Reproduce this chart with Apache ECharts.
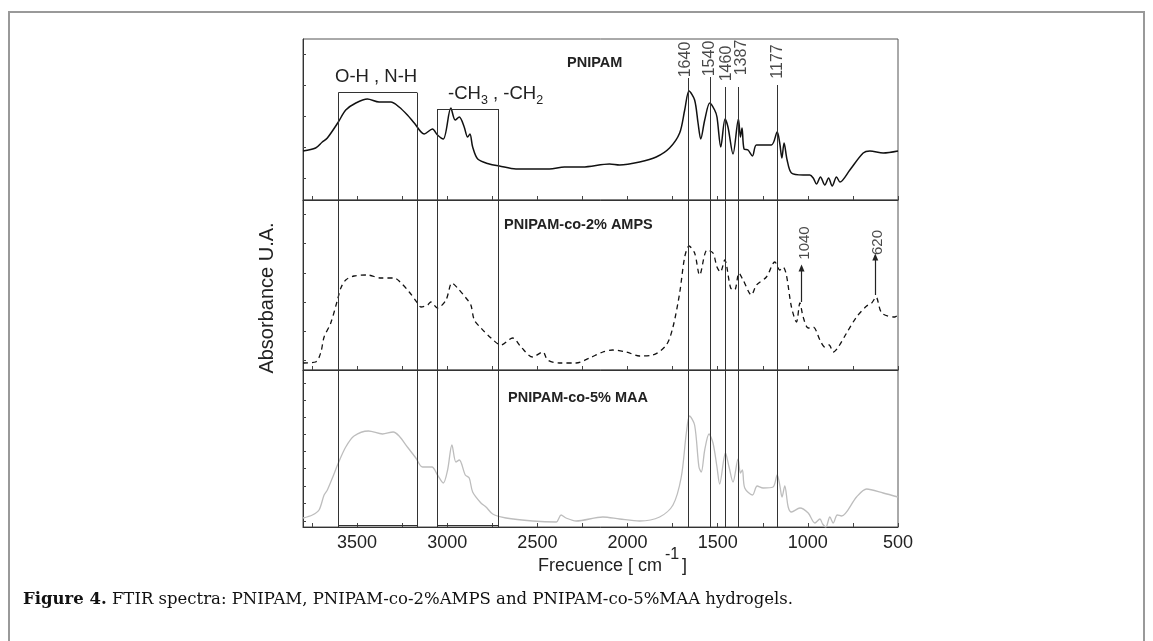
<!DOCTYPE html>
<html>
<head>
<meta charset="utf-8">
<script src="https://cdn.jsdelivr.net/npm/echarts@6/dist/echarts.min.js"></script>
<style>
html,body{margin:0;padding:0;background:#fff;}
#c{width:1153px;height:641px;}
</style>
</head>
<body>
<div id="c"></div>
<script>
// ---- Data (wavenumber cm-1, absorbance in arbitrary units per panel) ----
const wnPNIPAM = [3800,3730,3693,3665,3604,3563,3507,3443,3378,3313,3267,3221,3183,3128,3082,3054,3022,2980,2956,2933,2906,2887,2874,2859,2831,2767,2711,2619,2433,2350,2250,2100,2044,1933,1841,1767,1711,1683,1659,1628,1609,1594,1572,1544,1517,1504,1483,1459,1443,1415,1385,1374,1365,1354,1332,1307,1285,1202,1170,1156,1144,1132,1115,1091,1026,989,970,952,930,906,885,865,841,822,767,693,656,582,500];
const absPNIPAM = [49,52,58,62,78,90,97,101,98,98,93,85,77,66,71,65,61,92,80,83,73,63,66,53,41,36,34,31,31,33,33,36,35,38,43,52,67,90,109,100,77,61,80,97,90,83,53,81,73,46,81,63,72,51,50,44,55,55,68,57,42,57,40,27,25,25,22,16,23,15,22,14,23,18,30,47,49,47,49];

const wnAMPS = [3800,3730,3702,3683,3646,3609,3590,3563,3517,3443,3368,3294,3267,3211,3165,3146,3109,3091,3054,3007,2974,2943,2896,2869,2850,2813,2757,2702,2637,2591,2526,2470,2443,2378,2285,2211,2137,2082,2007,1933,1859,1785,1748,1711,1683,1659,1628,1600,1559,1526,1504,1485,1461,1428,1406,1382,1359,1313,1285,1230,1183,1156,1137,1119,1091,1063,1044,1026,998,970,933,906,882,859,831,785,730,674,646,622,590,517,500];
const absAMPS = [7,8,17,33,47,70,82,90,94,95,92,92,89,78,67,63,65,68,62,70,87,82,72,65,50,42,32,25,32,23,13,18,10,7,7,12,18,20,18,14,15,25,43,77,113,124,117,95,120,117,103,98,110,82,80,97,90,75,85,93,108,100,103,95,63,48,67,53,42,43,30,23,25,18,23,37,53,64,67,73,57,53,55];

const wnMAA = [3800,3748,3711,3683,3665,3637,3604,3563,3517,3437,3359,3300,3267,3221,3174,3137,3085,3054,3022,2998,2974,2952,2933,2900,2878,2859,2813,2785,2748,2674,2526,2396,2369,2341,2285,2137,2044,1933,1822,1748,1702,1674,1656,1628,1604,1591,1572,1548,1526,1504,1489,1457,1437,1415,1387,1374,1363,1350,1307,1281,1248,1193,1170,1156,1143,1128,1109,1091,1044,998,961,933,918,900,878,859,837,813,730,674,582,500];
const absMAA = [9,12,17,32,37,49,64,80,91,96,93,95,91,80,69,60,60,52,44,57,82,65,67,52,49,35,24,20,13,9,6,5,12,9,6,10,8,6,10,22,50,94,111,102,60,55,77,93,84,60,43,74,60,45,68,54,57,39,32,41,39,40,52,42,30,41,20,15,19,14,4,8,3,0,10,4,12,11,30,38,34,30];

const seriesNames = ['PNIPAM', 'PNIPAM-co-2% AMPS', 'PNIPAM-co-5% MAA'];

// peak marker lines (position on axis, printed label, top of line in panel 1 units)
const peakPos = [1663, 1539, 1459, 1385, 1170];
const peakLabels = ['1640', '1540', '1460', '1387', '1177'];
const peakTop = [122, 123, 113, 113, 115];
const peakLabelX = [1676, 1544, 1452, 1368, 1168];
const peakLabelY = [140.5, 141.5, 136.5, 142.5, 138.5];

// boxed regions: [from, to, top (panel 1 units)]
const boxLabels = ['O-H , N-H', '-CH3 , -CH2'];
const boxFrom = [3604, 3054];
const boxTo = [3167, 2717];
const boxTop = [107.3, 91];
const boxBottom = 1.3;

// arrows in panel 2
const arrowPos = [1035, 626];
const arrowFrom = [68, 75];
const arrowTo = [102, 113];
const arrowLabels = ['1040', '620'];
const arrowLabelX = [1017, 613];
const arrowLabelY = [127, 127.5];

// axis ticks
const xTickValues = [500,750,1000,1250,1500,1750,2000,2250,2500,2750,3000,3250,3500,3750];
const xLabelValues = [500,1000,1500,2000,2500,3000,3500];
const yTicks1 = [22,53,84,115,146];
const yTicks2 = [10,39,68,97,127,156];
const yTicks3 = [6,24,41,59,76,93,110,127,144];
const panelMax = [161, 170, 157];

// ---- Chart ----
const pair = (xs, ys) => xs.map((x, i) => [x, ys[i]]);
const FONT = 'Liberation Sans, Arial, Helvetica, sans-serif';
const SERIF = 'DejaVu Serif, serif';
const LEFT = 303, WIDTH = 595;
const tops = [39, 200, 370];

const grids = tops.map((t, i) => ({
  left: LEFT, top: t, width: WIDTH, height: panelMax[i],
  show: true, borderColor: '#555', borderWidth: 1, backgroundColor: 'transparent'
}));

const xAxes = [0,1,2].map(i => ({
  type: 'value', gridIndex: i, min: 500, max: 3800, inverse: true,
  axisLine: {show: true, lineStyle: {color: '#333', width: 1}},
  axisTick: {show: true, inside: true, length: 4, customValues: xTickValues, lineStyle: {color: '#444'}},
  axisLabel: {show: i === 2, customValues: xLabelValues, formatter: v => String(v),
    fontFamily: FONT, fontSize: 18, color: '#222', margin: 7},
  splitLine: {show: false}
}));

const yTickSets = [yTicks1, yTicks2, yTicks3];
const yAxes = [0,1,2].map(i => ({
  type: 'value', gridIndex: i, min: 0, max: panelMax[i],
  axisLine: {show: true, lineStyle: {color: '#333', width: 1}},
  axisTick: {show: true, inside: true, length: 3, customValues: yTickSets[i], lineStyle: {color: '#444'}},
  axisLabel: {show: false},
  splitLine: {show: false}
}));

const LINE_COLOR = '#333';
const fullPeakLines = peakPos.map(p => ({xAxis: p}));
const boxVerticalsFull = [];
boxFrom.forEach((f, i) => { boxVerticalsFull.push({xAxis: f}); boxVerticalsFull.push({xAxis: boxTo[i]}); });

const panel1Lines = [];
peakPos.forEach((p, i) => panel1Lines.push([{coord: [p, peakTop[i]]}, {coord: [p, 0]}]));
boxFrom.forEach((f, i) => {
  panel1Lines.push([{coord: [f, boxTop[i]]}, {coord: [boxTo[i], boxTop[i]]}]);
  panel1Lines.push([{coord: [f, boxTop[i]]}, {coord: [f, 0]}]);
  panel1Lines.push([{coord: [boxTo[i], boxTop[i]]}, {coord: [boxTo[i], 0]}]);
});
const panel3Lines = fullPeakLines.concat(boxVerticalsFull);
boxFrom.forEach((f, i) => panel3Lines.push([{coord: [f, boxBottom]}, {coord: [boxTo[i], boxBottom]}]));

const mlBase = {silent: true, symbol: 'none', label: {show: false}, animation: false,
  lineStyle: {color: LINE_COLOR, width: 1, type: 'solid'}, emphasis: {disabled: true}};

const series = [
  {
    name: seriesNames[0], type: 'line', xAxisIndex: 0, yAxisIndex: 0,
    data: pair(wnPNIPAM, absPNIPAM), smooth: 0.3, showSymbol: false,
    lineStyle: {color: '#111', width: 1.5}, itemStyle: {color: '#111'},
    markLine: Object.assign({}, mlBase, {data: panel1Lines})
  },
  {
    name: seriesNames[1], type: 'line', xAxisIndex: 1, yAxisIndex: 1,
    data: pair(wnAMPS, absAMPS), smooth: 0.3, showSymbol: false,
    lineStyle: {color: '#111', width: 1.3, type: [5, 4]}, itemStyle: {color: '#111'},
    markLine: Object.assign({}, mlBase, {data: fullPeakLines.concat(boxVerticalsFull)})
  },
  {
    name: seriesNames[2], type: 'line', xAxisIndex: 2, yAxisIndex: 2,
    data: pair(wnMAA, absMAA), smooth: 0.3, showSymbol: false,
    lineStyle: {color: '#bdbdbd', width: 1.3}, itemStyle: {color: '#bdbdbd'},
    markLine: Object.assign({}, mlBase, {data: panel3Lines})
  },
  {
    type: 'scatter', xAxisIndex: 0, yAxisIndex: 0, symbolSize: 0, silent: true,
    data: peakLabels.map((t, i) => ({name: t, value: [peakLabelX[i], peakLabelY[i]]})),
    label: {show: true, position: 'inside', formatter: '{b}', rotate: 90, fontFamily: FONT, fontSize: 16, color: '#1a1a1a', align: 'center', verticalAlign: 'middle'}
  },
  {
    type: 'scatter', xAxisIndex: 1, yAxisIndex: 1, symbolSize: 0, silent: true,
    data: arrowLabels.map((t, i) => ({name: t, value: [arrowLabelX[i], arrowLabelY[i]]})),
    label: {show: true, position: 'inside', formatter: '{b}', rotate: 90, fontFamily: FONT, fontSize: 15, color: '#1a1a1a', align: 'center', verticalAlign: 'middle'},
    markLine: Object.assign({}, mlBase, {
      symbol: ['none', 'triangle'], symbolSize: [6, 7],
      lineStyle: {color: '#222', width: 1.2, type: 'solid'},
      data: arrowPos.map((p, i) => [{coord: [p, arrowFrom[i]]}, {coord: [p, arrowTo[i]]}])
    })
  }
];

const txt = (x, y, text, opts) => ({
  type: 'text', x: x, y: y, silent: true,
  rotation: (opts && opts.rotation) || 0,
  style: Object.assign({text: text, fill: '#222', font: '18px ' + FONT,
    textAlign: 'left', textVerticalAlign: 'middle', align: 'left', verticalAlign: 'middle'}, (opts && opts.style) || {})
});

const graphic = [
  {type: 'rect', silent: true, shape: {x: 9, y: 12, width: 1135, height: 700},
   style: {fill: 'none', stroke: '#999', lineWidth: 2}},
  // panel titles
  txt(567, 63, seriesNames[0], {style: {font: 'bold 14.5px ' + FONT}}),
  txt(504, 225, seriesNames[1], {style: {font: 'bold 14.5px ' + FONT}}),
  txt(508, 398, seriesNames[2], {style: {font: 'bold 14.5px ' + FONT}}),
  // box labels
  txt(335, 77, boxLabels[0], {style: {font: '18.5px ' + FONT}}),
  {type: 'text', x: 448, y: 94, silent: true, style: {
    text: '{n|-CH}{s|3}{n| , -CH}{s|2}', fill: '#222', font: '18.5px ' + FONT,
    textAlign: 'left', textVerticalAlign: 'middle', align: 'left', verticalAlign: 'middle',
    rich: {
      n: {fontSize: 18.5, fontFamily: FONT, fill: '#222', color: '#222', lineHeight: 22},
      s: {fontSize: 12.5, fontFamily: FONT, fill: '#222', color: '#222', padding: [14, 0, 0, 0], lineHeight: 22}
    }}},
  // y title
  txt(267, 298, 'Absorbance U.A.', {rotation: Math.PI / 2, style: {font: '20px ' + FONT, textAlign: 'center', align: 'center'}}),
  // x title
  txt(538, 566, 'Frecuence [ cm', {style: {font: '18px ' + FONT}}),
  txt(665, 555, '-1', {style: {font: '16px ' + FONT}}),
  txt(682, 566, ']', {style: {font: '18px ' + FONT}}),
  // caption
  {type: 'text', x: 23, y: 600, silent: true, style: {
    text: '{b|Figure 4.} {n|FTIR spectra: PNIPAM, PNIPAM-co-2%AMPS and PNIPAM-co-5%MAA hydrogels.}',
    fill: '#111', font: '16.5px ' + SERIF,
    textAlign: 'left', textVerticalAlign: 'middle', align: 'left', verticalAlign: 'middle',
    rich: {
      b: {fontWeight: 'bold', fontSize: 16.5, fontFamily: SERIF, fill: '#111', color: '#111'},
      n: {fontSize: 16.5, fontFamily: SERIF, fill: '#111', color: '#111'}
    }}}
];

const chart = echarts.init(document.getElementById('c'), null, {renderer: 'canvas'});
chart.setOption({
  animation: false,
  backgroundColor: '#fff',
  grid: grids,
  xAxis: xAxes,
  yAxis: yAxes,
  series: series,
  graphic: graphic
});
</script>
</body>
</html>
